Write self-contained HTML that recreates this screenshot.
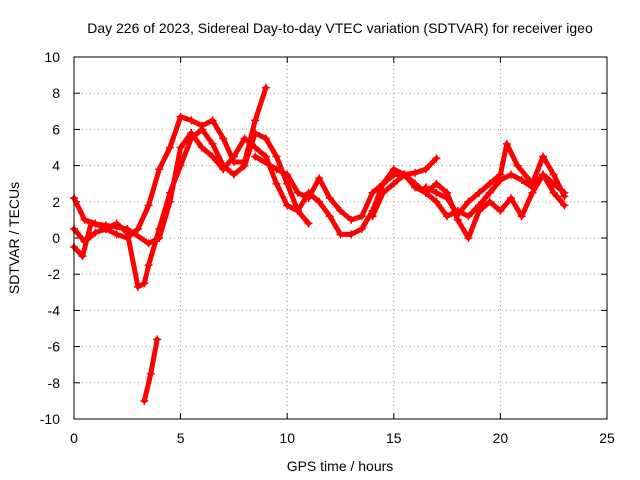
<!DOCTYPE html>
<html><head><meta charset="utf-8"><style>
body{margin:0;background:#fff}
svg{display:block;font-family:"Liberation Sans",sans-serif;font-size:14px}
</style></head><body>
<svg id="chart" width="640" height="480" viewBox="0 0 640 480" xmlns="http://www.w3.org/2000/svg">
<text x="340" y="33" text-anchor="middle">Day 226 of 2023, Sidereal Day-to-day VTEC variation (SDTVAR) for receiver igeo</text>
<text x="340" y="471" text-anchor="middle">GPS time / hours</text>
<text transform="translate(19,238) rotate(-90)" text-anchor="middle">SDTVAR / TECUs</text>
<g id="grid"></g>
<g id="axes"></g>
<g id="series"></g>
<rect x="74" y="57" width="533" height="362" fill="none" stroke="#000" stroke-width="1"/>
</svg>
<script>
const xTicks=[0,5,10,15,20,25];
const yTicks=[-10,-8,-6,-4,-2,0,2,4,6,8,10];
const trackA=[[0,2.2],[0.5,1],[1,0.8],[1.5,0.5],[2,0.2],[2.5,0],[3,0.5],[3.5,1.8],[4,3.8],[4.5,5],[5,6.7],[5.5,6.5],[6,6.2],[6.5,6.5],[7,5.5],[7.5,4.2],[8,4.2],[8.5,6.5],[9,8.3]];
const trackB=[[0,0.5],[0.5,-0.2],[1,0.3],[1.5,0.5],[2,0.8],[2.5,0.3],[3,-2.7],[3.3,-2.5],[3.5,-1.5],[4,0.5],[4.5,2.5],[5,4],[5.5,5.5],[6,6],[6.5,5.2],[7,4],[7.5,3.5],[8,4],[8.5,5.8],[9,5.5],[9.5,4.5],[10,3],[10.5,1.5],[11,0.8]];
const trackC=[[0,-0.5],[0.4,-1],[0.8,0.8],[1.5,0.7],[2.5,0.5],[3.5,-0.3],[4,0],[4.5,2],[5,5],[5.5,5.8],[6,5],[6.5,4.5],[7,3.8],[7.5,4.5],[8,5.5],[8.5,5],[9,4.5],[9.5,3],[10,1.8],[10.5,1.5],[11,2.5],[11.5,2],[12,1.2],[12.5,0.2],[13,0.2],[13.5,0.5],[14,1.5],[14.5,3],[15,3.5],[15.5,3.5],[16,3.6],[16.5,3.8],[17,4.4]];
const trackD=[[8.5,4.5],[9.5,3.8],[10,3.5],[10.5,2.5],[11,2.2],[11.5,3.3],[12,2.2],[12.5,1.5],[13,1.0],[13.5,1.2],[14,2.5],[14.5,3],[15,3.8],[15.5,3.5],[16,3.0],[16.5,2.5],[17,2.0],[17.5,1.2],[18,1.5],[18.5,1.2],[19,1.8],[19.5,2.5],[20,3.2],[20.5,3.5],[21,3.2],[21.5,2.8],[22,3.5],[22.5,3],[23,2.5]];
const trackE=[[14,1.2],[14.5,2.5],[15,3],[15.5,3.5],[16,2.8],[16.5,2.5],[17,3],[17.5,2.5],[18,1],[18.5,0],[19,1.5],[19.5,2],[20,1.5],[20.5,2.2],[21,1.2],[21.5,2.5],[22,3.5],[22.5,2.5],[23,1.8]];
const trackF=[[16.5,2.8],[17,2.5],[17.5,2.2],[18,1.3],[18.5,2],[19,2.5],[19.5,3],[20,3.5],[20.3,5.2],[20.8,4],[21.5,3],[22,4.5],[22.5,3.5],[23,2.3]];
const trackG=[[3.3,-9],[3.6,-7.5],[3.9,-5.6]];
const tracks=[trackA,trackB,trackC,trackD,trackE,trackF,trackG];
const NS="http://www.w3.org/2000/svg";
const X0=74,X1=607,Y0=419,Y1=57;
function sx(v){return X0+(v-0)/(25-0)*(X1-X0);}
function sy(v){return Y0-(v+10)/20*(Y0-Y1);}
function mk(t,a,p){const e=document.createElementNS(NS,t);for(const k in a)e.setAttribute(k,a[k]);p.appendChild(e);return e;}
const grid=document.getElementById('grid'),axes=document.getElementById('axes'),ser=document.getElementById('series');
xTicks.forEach(t=>{const x=sx(t);
 if(t>0&&t<25){const g=mk('line',{x1:x,x2:x,y1:Y1,y2:Y0,stroke:'#a0a0a0','stroke-dasharray':'1,3'},grid);}
 mk('line',{x1:x,x2:x,y1:Y0,y2:Y0-6,stroke:'#000'},axes);mk('line',{x1:x,x2:x,y1:Y1,y2:Y1+6,stroke:'#000'},axes);
 const l=mk('text',{x:x,y:Y0+24,'text-anchor':'middle'},axes);l.textContent=t;
 });
yTicks.forEach(t=>{const y=sy(t);
 if(t>-10&&t<10){const g=mk('line',{x1:X0,x2:X1,y1:y,y2:y,stroke:'#a0a0a0','stroke-dasharray':'1,3'},grid);}
 mk('line',{x1:X0,x2:X0+6,y1:y,y2:y,stroke:'#000'},axes);mk('line',{x1:X1,x2:X1-6,y1:y,y2:y,stroke:'#000'},axes);
 const l=mk('text',{x:X0-14,y:y+5,'text-anchor':'end'},axes);l.textContent=t;
 });
tracks.forEach((tr,i)=>{
 const g=mk('g',{},ser);
 
 
 mk('polyline',{points:tr.map(p=>sx(p[0])+','+sy(p[1])).join(' '),fill:'none',stroke:'#f00','stroke-width':5,'stroke-linejoin':'round','stroke-linecap':'round'},g);
 tr.forEach(p=>{const x=sx(p[0]),y=sy(p[1]);
  const m=mk('path',{d:`M${x-4},${y}H${x+4}M${x},${y-4}V${y+4}`,stroke:'#f00','stroke-width':1.5},g);
  });
});
</script>
</body></html>
